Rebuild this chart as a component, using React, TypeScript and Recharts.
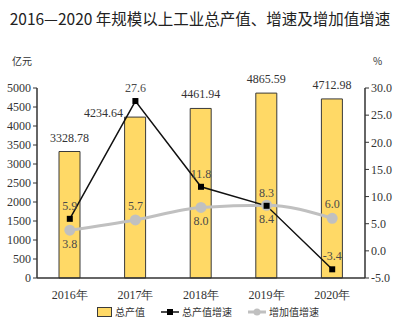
import {
  Bar,
  ComposedChart,
  LabelList,
  Line,
  XAxis,
  YAxis,
} from 'recharts';

const years = ['2016年', '2017年', '2018年', '2019年', '2020年'];
const outputValue = [3328.78, 4234.64, 4461.94, 4865.59, 4712.98];
const outputGrowth = [5.9, 27.6, 11.8, 8.3, -3.4];
const addedGrowth = [3.8, 5.7, 8.0, 8.4, 6.0];
const leftTicks = [0, 500, 1000, 1500, 2000, 2500, 3000, 3500, 4000, 4500, 5000];
const rightTicks = [-5, 0, 5, 10, 15, 20, 25, 30];

const data = years.map((year, i) => ({
  year,
  output: outputValue[i],
  growth: outputGrowth[i],
  added: addedGrowth[i],
}));

const SERIF = '"Liberation Serif", "DejaVu Serif", serif';
const SANS = '"Noto Sans CJK SC", "Noto Sans", sans-serif';
const LABEL_COLOR = '#4a4a4a';

// label above/below for the grey line
const addedLabelSide = [1, -1, 1, 1, -1];

const BarValueLabel = (props: any) => {
  const { x, y, width, value, index } = props;
  const cx = x + width / 2;
  // 2017 label sits left of the bar top, the 27.6 label takes the space above
  const shifted = index === 1;
  return (
    <text
      x={shifted ? cx - 12 : cx}
      y={shifted ? y - 4 : y - 14}
      textAnchor={shifted ? 'end' : 'middle'}
      dominantBaseline="central"
      fontSize={12}
      fontFamily={SERIF}
      fill="#333"
    >
      {value.toFixed(2)}
    </text>
  );
};

const GrowthLabel = (props: any) => {
  const { x, y, value } = props;
  return (
    <text
      x={x}
      y={y - 13}
      textAnchor="middle"
      dominantBaseline="central"
      fontSize={12}
      fontFamily={SERIF}
      fill={LABEL_COLOR}
    >
      {value.toFixed(1)}
    </text>
  );
};

const AddedLabel = (props: any) => {
  const { x, y, value, index } = props;
  return (
    <text
      x={x}
      y={y + addedLabelSide[index] * 14}
      textAnchor="middle"
      dominantBaseline="central"
      fontSize={12}
      fontFamily={SERIF}
      fill={LABEL_COLOR}
    >
      {value.toFixed(1)}
    </text>
  );
};

const SquareDot = (props: any) => {
  const { cx, cy } = props;
  return <rect x={cx - 3} y={cy - 3} width={6} height={6} fill="#000" />;
};

const legendItem = { display: 'flex', alignItems: 'center', gap: 3 } as const;

export default function App() {
  return (
    <div
      style={{
        position: 'fixed',
        left: 0,
        top: 0,
        width: 400,
        height: 328,
        background: '#fff',
        overflow: 'hidden',
      }}
    >
      <div
        style={{
          position: 'absolute',
          top: 6,
          left: 0,
          width: 400,
          textAlign: 'center',
          fontFamily: SANS,
          fontSize: 15.5,
          lineHeight: '24px',
          color: '#222',
          whiteSpace: 'nowrap',
        }}
      >
        2016—2020 年规模以上工业总产值、增速及增加值增速
      </div>
      <div
        style={{
          position: 'absolute',
          top: 53,
          left: 12,
          fontFamily: SANS,
          fontSize: 10,
          color: '#333',
        }}
      >
        亿元
      </div>
      <div
        style={{
          position: 'absolute',
          top: 53,
          left: 373,
          fontFamily: SANS,
          fontSize: 10,
          color: '#333',
        }}
      >
        %
      </div>

      <ComposedChart
        width={400}
        height={328}
        data={data}
        margin={{ top: 88, right: 0, left: 0, bottom: 28 }}
      >
        <XAxis
          dataKey="year"
          height={22}
          axisLine={{ stroke: '#333', strokeWidth: 1.5 }}
          tickLine={false}
          tickMargin={6}
          tick={{ fontSize: 12, fontFamily: SERIF, fill: '#333' }}
          interval={0}
        />
        <YAxis
          yAxisId="left"
          width={37}
          domain={[0, 5000]}
          ticks={leftTicks}
          interval={0}
          axisLine={{ stroke: '#333', strokeWidth: 1.5 }}
          tickLine={{ stroke: '#333' }}
          tickSize={4}
          tickMargin={2}
          tick={{ fontSize: 12, fontFamily: SERIF, fill: '#333' }}
        />
        <YAxis
          yAxisId="right"
          orientation="right"
          width={35}
          domain={[-5, 30]}
          ticks={rightTicks}
          interval={0}
          axisLine={{ stroke: '#333', strokeWidth: 1.5 }}
          tickLine={{ stroke: '#333' }}
          tickSize={4}
          tickMargin={2}
          tickFormatter={(v: number) => v.toFixed(1)}
          tick={{ fontSize: 12, fontFamily: SERIF, fill: '#333' }}
        />
        <Bar
          yAxisId="left"
          dataKey="output"
          barSize={21}
          fill="#FFD966"
          stroke="#3a3a3a"
          strokeWidth={1}
          isAnimationActive={false}
        >
          <LabelList dataKey="output" content={BarValueLabel} />
        </Bar>
        <Line
          yAxisId="right"
          type="monotone"
          dataKey="added"
          stroke="#C0C0C0"
          strokeWidth={3}
          dot={{ r: 4, fill: '#C0C0C0', stroke: '#C0C0C0' }}
          isAnimationActive={false}
        >
          <LabelList dataKey="added" content={AddedLabel} />
        </Line>
        <Line
          yAxisId="right"
          type="linear"
          dataKey="growth"
          stroke="#111"
          strokeWidth={1.5}
          dot={<SquareDot />}
          isAnimationActive={false}
        >
          <LabelList dataKey="growth" content={GrowthLabel} />
        </Line>
      </ComposedChart>

      <div
        style={{
          position: 'absolute',
          top: 304,
          left: 97,
          display: 'flex',
          gap: 16,
          fontFamily: SANS,
          fontSize: 10,
          color: '#333',
        }}
      >
        <div style={legendItem}>
          <span
            style={{
              display: 'inline-block',
              width: 13,
              height: 8,
              background: '#FFD966',
              border: '1px solid #3a3a3a',
            }}
          />
          总产值
        </div>
        <div style={legendItem}>
          <svg width={18} height={8}>
            <line x1={0} y1={4} x2={18} y2={4} stroke="#111" strokeWidth={1.5} />
            <rect x={6} y={1} width={6} height={6} fill="#000" />
          </svg>
          总产值增速
        </div>
        <div style={legendItem}>
          <svg width={18} height={8}>
            <line x1={0} y1={4} x2={18} y2={4} stroke="#C0C0C0" strokeWidth={3} />
            <circle cx={9} cy={4} r={3.5} fill="#C0C0C0" />
          </svg>
          增加值增速
        </div>
      </div>
    </div>
  );
}
